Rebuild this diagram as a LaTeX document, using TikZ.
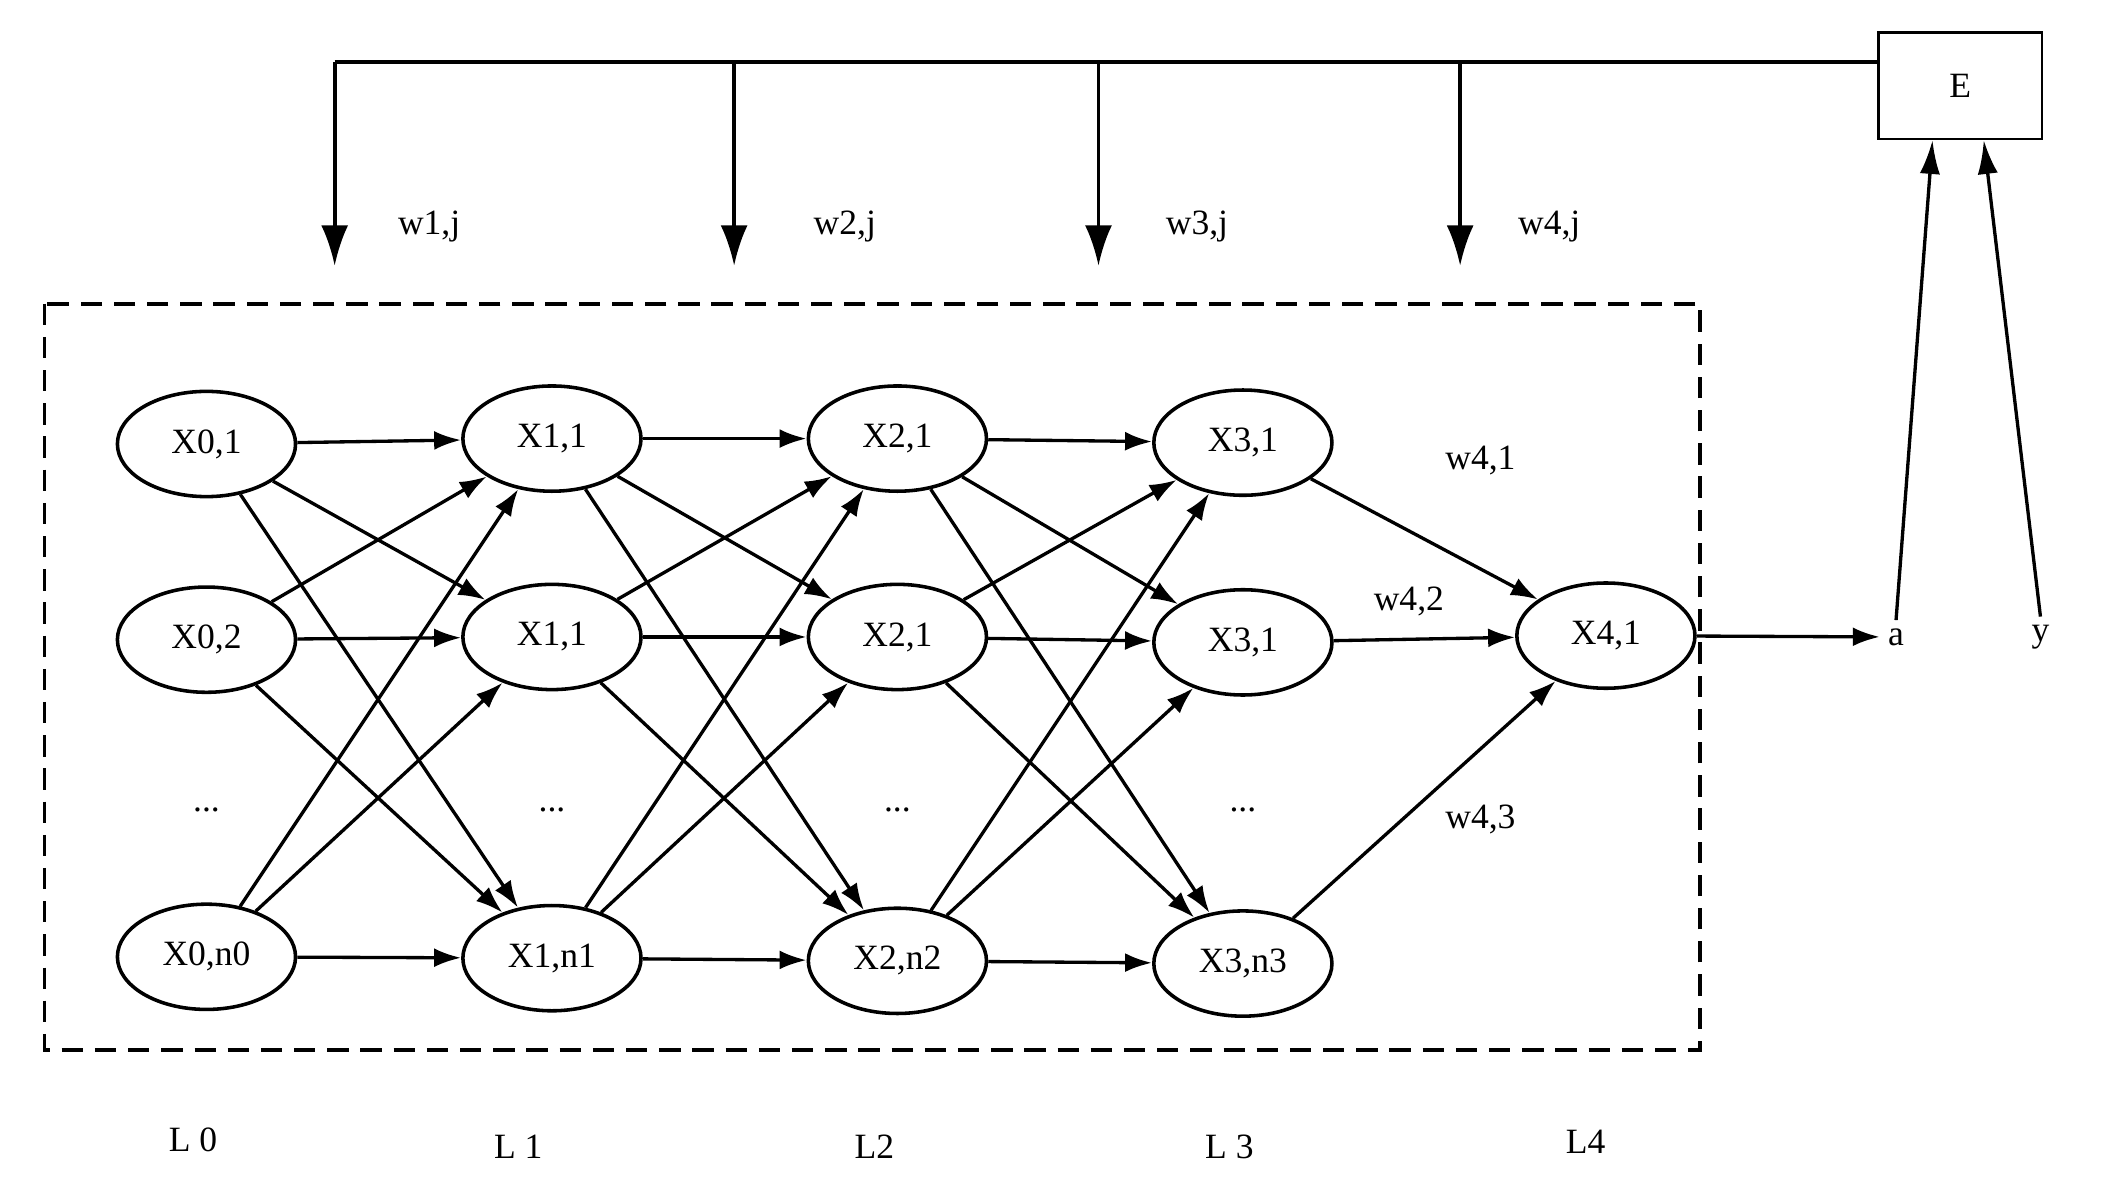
\documentclass[tikz,border=0pt]{standalone}
\usepackage{fontspec}
\setmainfont{Liberation Serif}
\usetikzlibrary{shapes.geometric,arrows.meta}
\begin{document}
\begin{tikzpicture}[x=0.02cm,y=-0.02cm,
  nd/.style={draw,ellipse,line width=1.5pt,minimum width=132*0.02cm,minimum height=78*0.02cm,inner sep=0pt,font=\fontsize{15}{17}\selectfont},
  lb/.style={font=\fontsize{15}{17}\selectfont},
  ed/.style={line width=1.4pt,-{Latex[length=4mm,width=2.8mm]}},
  big/.style={line width=1.6pt,-{Latex[length=6mm,width=4mm]}}]
\useasboundingbox (0,0) rectangle (1568,890);
\draw[line width=1.6pt,dashed,dash pattern=on 9pt off 5pt] (33,225) rectangle (1260,778);
\node[draw,line width=1pt,minimum width=121*0.02cm,minimum height=79*0.02cm,lb] (E) at (1452.5,63.5) {E};
\foreach \x/\n in {153/0,409/1,665/2,921/3}{\node[lb] (d\n) at (\x,600) {...};}
\node[nd] (a1) at (153,329) {X0,1};
\node[nd] (a2) at (153,474) {X0,2};
\node[nd] (a3) at (153,709) {X0,n0};
\node[nd] (b1) at (409,325) {X1,1};
\node[nd] (b2) at (409,472) {X1,1};
\node[nd] (b3) at (409,710) {X1,n1};
\node[nd] (c1) at (665,325) {X2,1};
\node[nd] (c2) at (665,472) {X2,1};
\node[nd] (c3) at (665,712) {X2,n2};
\node[nd] (e1) at (921,328) {X3,1};
\node[nd] (e2) at (921,476) {X3,1};
\node[nd] (e3) at (921,714) {X3,n3};
\node[nd] (f1) at (1190,471) {X4,1};
\foreach \p/\q in {a/b,b/c,c/e}{
 \foreach \i in {1,2,3}{\foreach \j in {1,2,3}{\draw[ed] (\p\i) -- (\q\j);}}}
\foreach \i in {1,2,3}{\draw[ed] (e\i) -- (f1);}
\node[lb] (oa) at (1405,472) {a};
\node[lb] (oy) at (1512,472) {y};
\draw[ed] (f1) -- (oa);
\draw[line width=1.4pt,-{Latex[length=5mm,width=3mm]}] (oa.north) -- (E.south -| 1432,0);
\draw[line width=1.4pt,-{Latex[length=5mm,width=3mm]}] (oy.north) -- (E.south -| 1470,0);
\coordinate (t0) at (248,46);
\draw[line width=1.6pt] (t0) -- (E.west |- t0);
\foreach \x/\k/\lx in {248/1/318,544/2/626,814/3/887,1082/4/1148}{
 \coordinate (s\k) at (\x,46); \coordinate (u\k) at (\x,197);
 \draw[big] (s\k) -- (u\k);
 \node[lb] (w\k) at (\lx,168) {w\k,j};}
\node[lb] (w41) at (1097,341) {w4,1};
\node[lb] (w42) at (1044,446) {w4,2};
\node[lb] (w43) at (1097,607) {w4,3};
\node[lb] (L0) at (143,845) {L 0};
\node[lb] (L1) at (384,850) {L 1};
\node[lb] (L2) at (648,850) {L2};
\node[lb] (L3) at (911,850) {L 3};
\node[lb] (L4) at (1175,846) {L4};
\end{tikzpicture}
\end{document}
